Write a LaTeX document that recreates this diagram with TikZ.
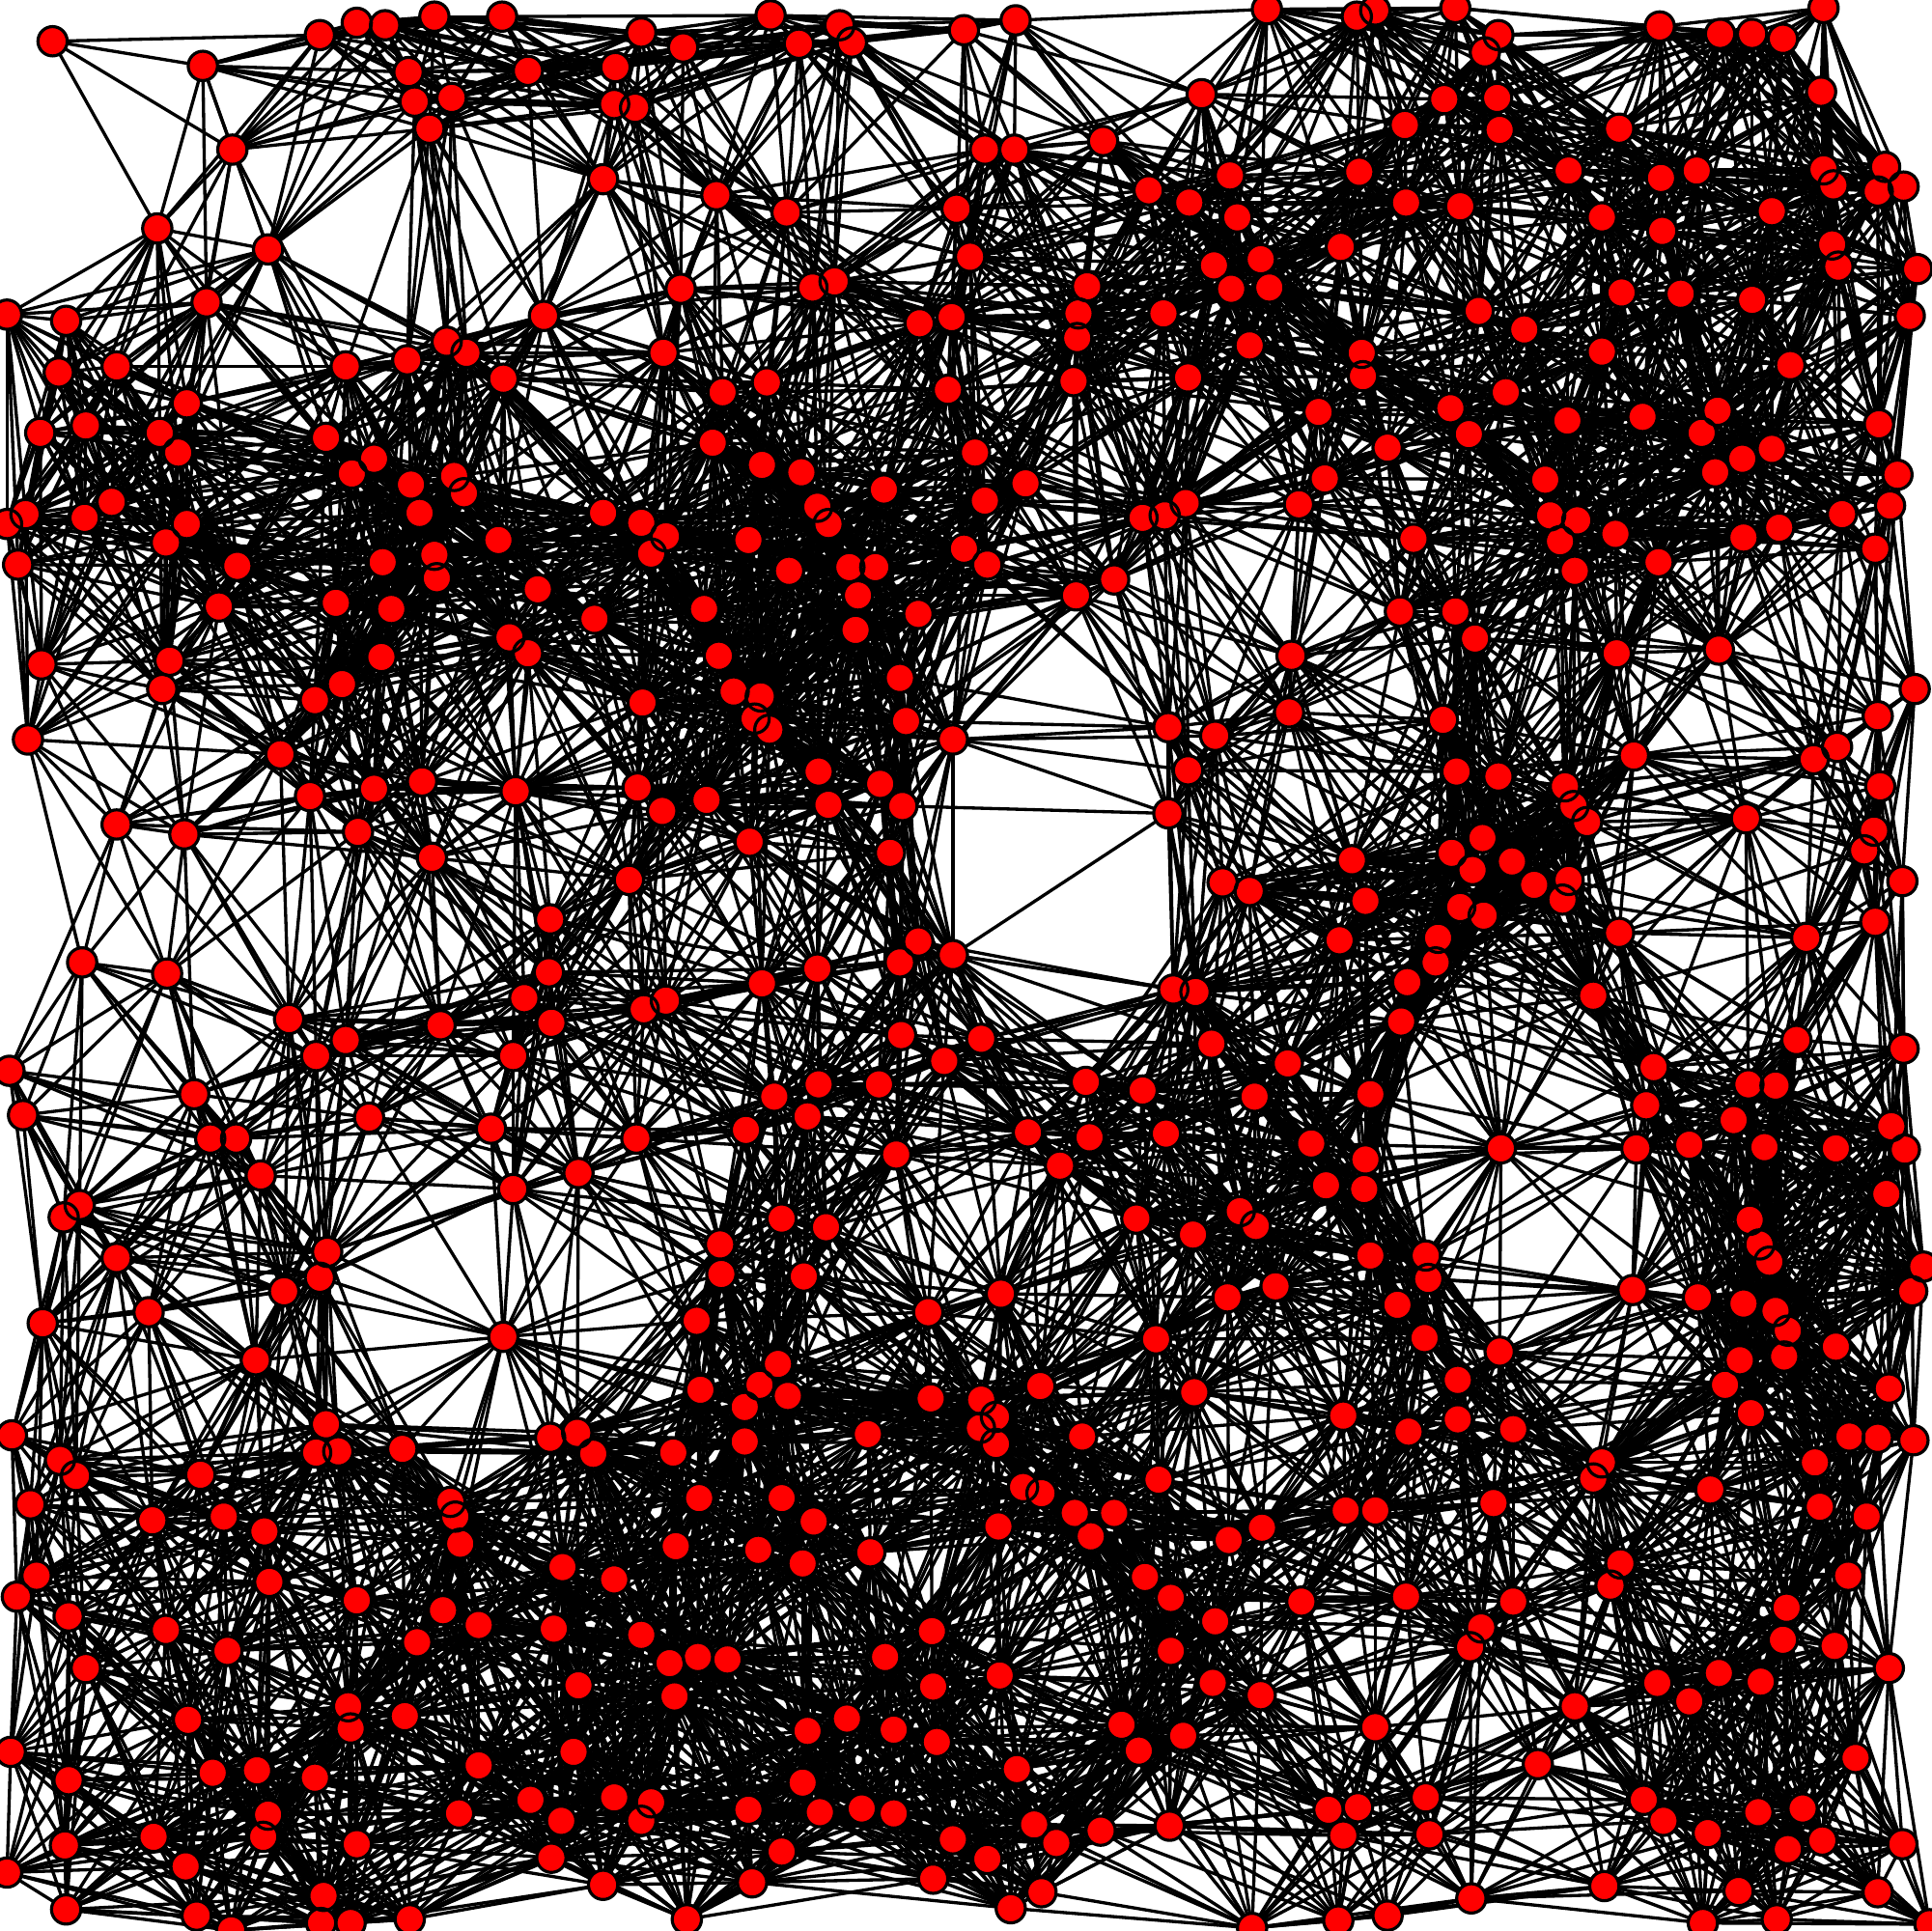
\documentclass[tikz,border=0pt]{standalone}
\pgfdeclarelayer{bg}\pgfdeclarelayer{fg}\pgfsetlayers{bg,main,fg}
\tikzset{dot/.style={circle,fill=red,draw=none,inner sep=0pt,minimum size=12pt},
 edge/.style={black,line width=1.3pt},
 ring/.style={black,line width=1.25pt}}
\newcount\ia \newcount\ib \newcount\dd
\def\RR{49300}
\def\innerloop{\ifnum\ib>\total\else
 \dd=\numexpr(\csname nx\the\ia\endcsname-\csname nx\the\ib\endcsname)*(\csname nx\the\ia\endcsname-\csname nx\the\ib\endcsname)+(\csname ny\the\ia\endcsname-\csname ny\the\ib\endcsname)*(\csname ny\the\ia\endcsname-\csname ny\the\ib\endcsname)\relax
 \ifnum\dd<\RR\relax\edef\na{n\the\ia}\edef\nb{n\the\ib}\draw[edge] (\na.center)--(\nb.center);\fi
 \advance\ib by 1 \expandafter\innerloop\fi}
\def\outerloop{\ifnum\ia>\total\else\ib=\ia \advance\ib by 1 \innerloop\advance\ia by 1 \expandafter\outerloop\fi}
\begin{document}
\begin{tikzpicture}[x=0.5pt,y=-0.5pt]
\useasboundingbox (0,0) rectangle (1568,1568);
\begin{pgfonlayer}{bg}\fill[white] (0,0) rectangle (1568,1568);\end{pgfonlayer}
\foreach \x/\y [count=\i] in {
42/33,164/53,259/28,289/18,312/20,352/13,407/13,520/26,554/38,625/12,648/35,681/20,691/34,782/24,824/16,1028/7,1101/13,1116/8,1181/6,1216/28,1205/42,1347/21,1396/27,1422/27,1447/31,1480/6,
331/58,499/54,428/57,336/82,366/79,348/104,498/84,515/87,975/76,1172/80,1215/79,1140/101,1217/105,1314/104,1478/74,
188/121,489/145,581/158,638/172,799/121,823/121,895/114,776/169,932/154,965/164,998/142,1103/139,1141/164,1185/167,1273/138,1348/144,1377/138,1480/137,1530/135,1488/150,1524/155,1545/151,1438/171,1004/176,1300/176,
127/185,217/202,787/208,1088/200,1349/187,1487/198,1492/216,1556/218,985/215,1023/210,552/234,659/233,677/228,882/232,999/234,1030/233,1316/237,1364/238,1422/243,
5/255,53/260,167/245,441/256,746/262,772/257,875/254,874/274,944/254,1200/252,1237/267,1550/256,362/277,378/286,330/292,280/297,94/297,47/302,538/286,1014/280,1105/286,1300/285,1453/296,
408/307,586/318,622/310,769/316,871/309,964/306,1106/305,1222/318,1177/331,1070/334,151/327,1272/341,1333/338,1394/333,1525/344,
32/351,69/345,129/351,144/367,264/355,578/359,791/367,1192/352,1126/363,1381/351,1438/364,1414/372,1392/383,303/372,285/384,618/377,650/383,333/393,368/386,376/400,717/397,832/392,1075/388,1254/389,1540/385,
20/417,5/425,68/420,90/407,340/416,489/416,520/424,540/435,404/438,151/425,134/440,663/411,672/425,607/438,799/406,782/445,927/420,945/418,962/408,1054/409,1147/437,1258/418,1280/422,1266/439,1311/433,1415/436,1444/428,1495/417,1534/410,1522/445,
14/458,192/459,352/450,528/449,310/456,354/469,436/478,640/463,689/460,710/460,801/458,696/483,904/470,873/483,1346/456,1278/463,177/492,272/489,317/494,482/502,571/494,745/498,1136/496,1181/496,
694/511,413/517,428/530,583/532,309/533,33/539,137/536,1197/518,1048/532,1312/530,1395/527,277/555,131/559,730/550,595/561,617/565,1554/559,
255/568,521/570,612/583,624/592,735/585,1046/578,1171/584,22/600,773/600,948/590,986/597,227/612,1326/613,1491/606,1524/581,1472/616,
342/634,418/642,303/640,251/646,517/639,573/649,537/658,664/626,672/653,714/636,732/654,964/625,948/660,1182/626,1216/630,1270/638,1277/654,1288/667,1526/638,1417/664,94/669,149/677,290/675,
608/683,722/692,350/696,1203/680,1178/692,1227/699,1097/698,1513/690,1521/674,510/714,992/716,1014/723,1195/706,1245/718,1273/714,1268/730,1544/715,1108/731,
446/746,745/764,773/775,730/781,1185/736,1204/743,1087/763,1167/761,1165/781,1314/757,1466/761,1522/748,66/781,135/790,445/789,663/786,
618/798,425/810,522/819,540/812,952/803,970/805,1142/797,1293/808,234/827,357/832,447/830,1137/829,731/840,796/843,280/844,983/847,1458/844,1545/851,
256/857,416/857,766/861,1045/863,1342/866,7/869,157/888,881/878,664/880,713/880,628/890,927/885,1018/890,1112/888,1419/880,1441/881,1336/897,
18/905,299/907,655/906,605/917,398/916,834/919,884/923,946/920,170/924,191/924,516/924,1407/909,1535/914,1064/928,1218/932,1328/932,1371/929,1432/931,1490/932,1546/933,727/937,469/952,860/946,1108/941,211/954,
416/965,1076/962,1107/965,1531/969,64/978,51/988,1006/983,922/989,1019/995,634/989,670/996,968/1002,1420/990,584/1010,1428/1010,
94/1021,265/1016,259/1037,585/1034,652/1036,1112/1019,1157/1019,1159/1038,1436/1024,1561/1028,1035/1044,230/1048,812/1050,1325/1047,1378/1053,1552/1048,996/1053,
120/1065,34/1074,753/1065,1134/1059,565/1072,1415/1058,1441/1064,1451/1080,408/1085,938/1087,1156/1086,1217/1097,1490/1093,207/1104,1448/1101,1412/1104,
631/1107,616/1124,568/1128,639/1133,755/1135,844/1125,1183/1120,969/1130,1400/1124,1533/1127,796/1136,808/1150,604/1142,1090/1149,1183/1152,1421/1147,264/1156,795/1159,9/1165,446/1167,468/1163,604/1170,704/1164,878/1166,808/1172,1143/1162,1228/1160,
256/1179,274/1178,326/1176,48/1185,61/1198,481/1180,546/1179,162/1197,1473/1187,1501/1166,1524/1167,1553/1169,1300/1187,1293/1200,940/1201,830/1207,845/1212,1388/1209,567/1216,634/1216,1212/1220,1477/1223,
24/1221,365/1219,369/1231,123/1234,181/1231,214/1243,660/1235,872/1228,904/1228,1092/1226,1116/1226,1024/1240,1515/1231,810/1239,885/1247,997/1250,373/1253,548/1255,615/1258,706/1260,651/1269,456/1272,1315/1269,
29/1279,498/1282,218/1284,929/1280,1307/1287,1500/1279,13/1296,289/1299,950/1297,1056/1300,1141/1296,1228/1300,1450/1305,359/1307,55/1312,388/1319,449/1322,986/1316,134/1323,1202/1321,520/1327,756/1324,338/1333,1447/1331,1489/1336,184/1340,1193/1337,950/1340,
543/1350,566/1345,590/1347,718/1345,69/1354,811/1360,1533/1354,1395/1358,1345/1366,469/1368,757/1369,1429/1365,984/1366,1023/1376,547/1377,1371/1381,1278/1385,282/1385,152/1396,328/1393,687/1395,
284/1403,1116/1402,910/1400,725/1404,655/1405,960/1409,760/1414,465/1422,8/1422,924/1421,1506/1427,1248/1432,388/1433,172/1439,208/1437,255/1443,55/1445,825/1436,651/1447,
1157/1459,498/1459,430/1461,528/1463,1334/1461,217/1473,372/1472,455/1478,520/1478,607/1469,665/1471,699/1468,725/1472,1078/1469,1102/1467,1350/1478,1427/1471,1463/1468,839/1481,893/1486,949/1482,1090/1490,1160/1489,1386/1488,
124/1491,213/1491,52/1498,289/1497,773/1493,857/1496,1479/1494,1544/1497,634/1503,447/1508,801/1509,150/1515,5/1520,1451/1501,1411/1535,
489/1530,610/1528,757/1525,1302/1531,845/1536,262/1539,1524/1536,1194/1541,53/1550,820/1549,159/1555,260/1561,284/1561,332/1558,557/1558,1016/1565,1086/1559,1126/1555,1382/1561,1442/1558,187/1567,1566/1562
}{
 \node[dot] (n\i) at ({\x+0.7},{\y+0.5}) {};
 \expandafter\xdef\csname nx\i\endcsname{\x}
 \expandafter\xdef\csname ny\i\endcsname{\y}
 \xdef\total{\i}
}
\begin{pgfonlayer}{bg}
\ia=1 \outerloop
\end{pgfonlayer}
\begin{pgfonlayer}{fg}
\foreach \i in {1,...,\total}{\draw[ring] (n\i.center) circle[radius=5.95pt];}
\end{pgfonlayer}
\end{tikzpicture}
\end{document}
